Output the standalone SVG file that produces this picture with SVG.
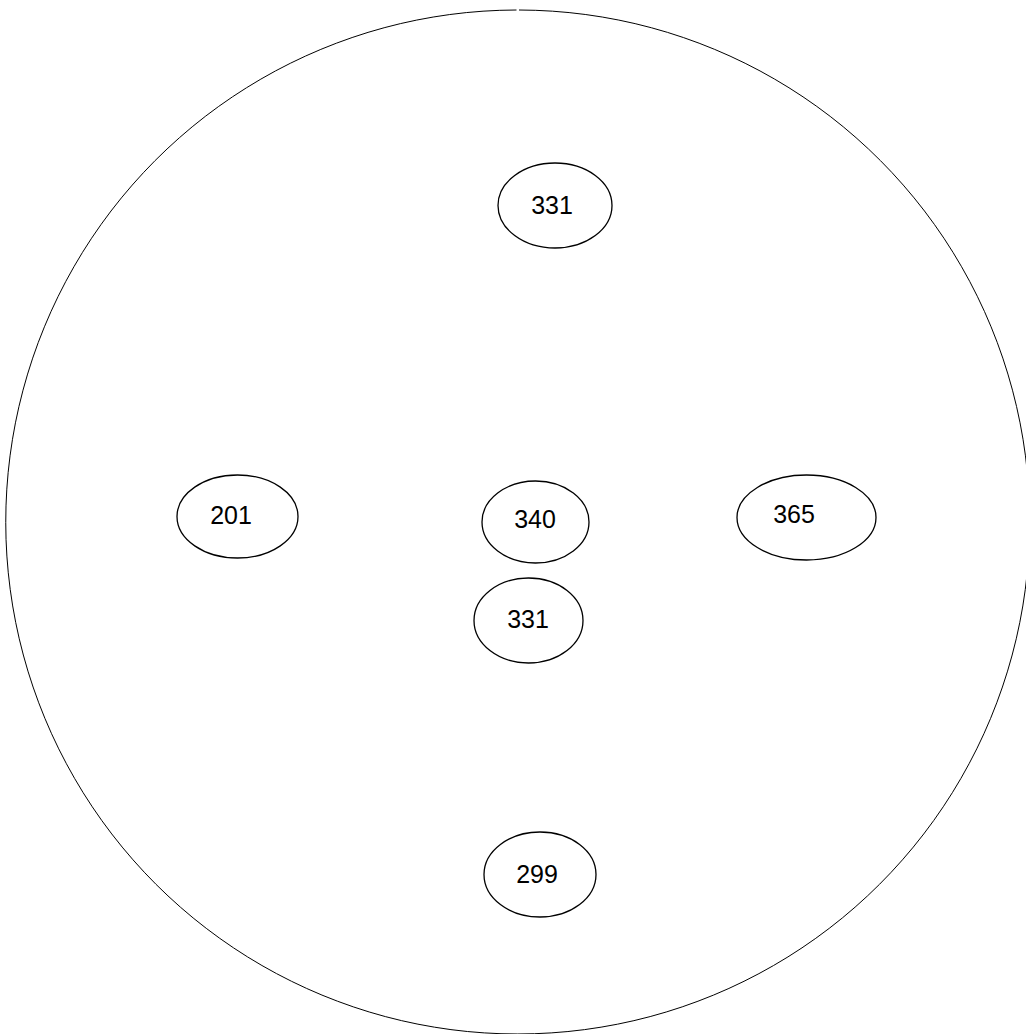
<svg xmlns="http://www.w3.org/2000/svg" width="1026" height="1034" viewBox="0 0 1026 1034">
<style>
.node ellipse{fill:#ffffff;stroke:#000000;stroke-width:1.3}
.node text{font-family:"Liberation Sans",Arial,sans-serif;font-size:25px;fill:#000000;text-anchor:middle}
.outer{fill:none;stroke:#000000;stroke-width:1}
</style>
<rect width="1026" height="1034" fill="#ffffff"/>
<g id="outer-circle">
<path class="outer" d="M 516.5 10 A 512 512 0 1 0 519 10"/>
</g>
<g id="connectors"></g>
<g id="node-331-top" class="node">
<ellipse cx="555" cy="205.5" rx="57" ry="42.5"/>
<text x="552" y="214">331</text>
</g>
<g id="node-201" class="node">
<ellipse cx="237.5" cy="516.5" rx="60.5" ry="41.5"/>
<text x="231" y="524">201</text>
</g>
<g id="node-340" class="node">
<ellipse cx="535.5" cy="522" rx="53.5" ry="41"/>
<text x="535" y="528">340</text>
</g>
<g id="node-365" class="node">
<ellipse cx="806.5" cy="517.5" rx="69.5" ry="42.5"/>
<text x="794" y="523">365</text>
</g>
<g id="node-331-mid" class="node">
<ellipse cx="528.5" cy="620.5" rx="54.5" ry="42.5"/>
<text x="528" y="628">331</text>
</g>
<g id="node-299" class="node">
<ellipse cx="540" cy="874.5" rx="56" ry="42.5"/>
<text x="537" y="883">299</text>
</g>
</svg>
